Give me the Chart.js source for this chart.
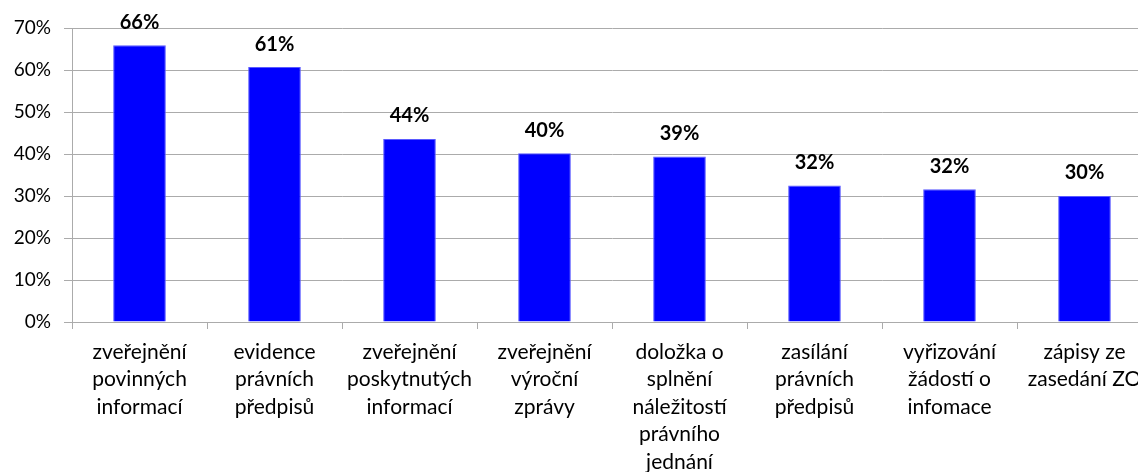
<!DOCTYPE html>
<html>
<head>
<meta charset="utf-8">
<script src="https://cdn.jsdelivr.net/npm/chart.js@4/dist/chart.umd.min.js"></script>
<style>
html,body{margin:0;padding:0;background:#fff;overflow:hidden;width:1138px;height:472px;}
#wrap{position:absolute;left:0;top:0;width:1160px;height:472px;}
</style>
</head>
<body>
<div id="wrap"><canvas id="c" width="1160" height="472"></canvas></div>
<script>
const categories = [
  ["zveřejnění", "povinných", "informací"],
  ["evidence", "právních", "předpisů"],
  ["zveřejnění", "poskytnutých", "informací"],
  ["zveřejnění", "výroční", "zprávy"],
  ["doložka o", "splnění", "náležitostí", "právního", "jednání"],
  ["zasílání", "právních", "předpisů"],
  ["vyřizování", "žádostí o", "infomace"],
  ["zápisy ze", "zasedání ZO"]
];
const values = [65.9, 60.7, 43.6, 40.2, 39.4, 32.5, 31.6, 30.0];
const valueLabels = ["66%", "61%", "44%", "40%", "39%", "32%", "32%", "30%"];
const yTicks = [0, 10, 20, 30, 40, 50, 60, 70];

const FONT = "Lato, 'Open Sans', sans-serif";

const labelPlugin = {
  id: 'valueLabels',
  afterDatasetsDraw(chart) {
    const ctx = chart.ctx;
    const meta = chart.getDatasetMeta(0);
    ctx.save();
    ctx.font = "bold 20px " + FONT;
    ctx.fillStyle = "#000";
    ctx.textAlign = "center";
    ctx.textBaseline = "middle";
    meta.data.forEach((bar, i) => {
      ctx.fillText(valueLabels[i], bar.x, bar.y - 23);
    });
    ctx.restore();
  }
};

new Chart(document.getElementById('c'), {
  type: 'bar',
  data: {
    labels: categories,
    datasets: [{
      data: values,
      backgroundColor: '#0000FF',
      borderColor: '#5a5aff',
      borderWidth: 1,
      barPercentage: 0.39,
      categoryPercentage: 1.0
    }]
  },
  options: {
    responsive: false,
    animation: false,
    devicePixelRatio: 1,
    layout: { padding: { top: 28, right: 8, left: 0, bottom: 0 } },
    plugins: { legend: { display: false }, tooltip: { enabled: false } },
    scales: {
      y: {
        min: 0, max: 70,
        afterBuildTicks(scale) { scale.ticks = yTicks.map(v => ({ value: v })); },
        afterFit(scale) { scale.width = 72; },
        ticks: {
          callback: v => v + '%',
          color: '#000',
          font: { family: FONT, size: 19 },
          padding: 13
        },
        grid: { color: '#ababab', lineWidth: 1, tickLength: 8, drawTicks: true },
        border: { color: '#ababab', width: 1 }
      },
      x: {
        afterFit(scale) { scale.height = 150; },
        ticks: {
          color: '#000',
          font: { family: FONT, size: 21, lineHeight: 1.31 },
          padding: 9,
          maxRotation: 0,
          autoSkip: false
        },
        grid: { offset: true, drawOnChartArea: false, drawTicks: true, tickLength: 7, color: '#ababab' },
        border: { color: '#ababab', width: 1 }
      }
    }
  },
  plugins: [labelPlugin]
});
</script>
</body>
</html>
